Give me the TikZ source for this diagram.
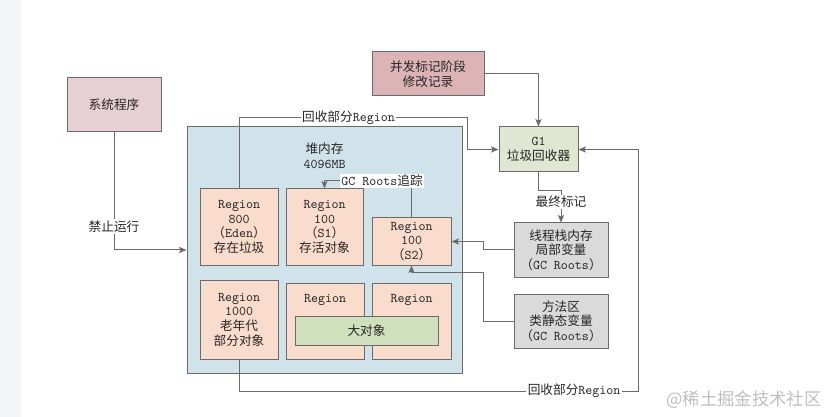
\documentclass[tikz,border=0pt]{standalone}
\usepackage{fontspec}
\setmainfont{Noto Sans CJK SC}
\newcommand{\lat}[1]{{\ttfamily\fontsize{10}{11}\selectfont #1}}
\usepackage{xcolor}
\usetikzlibrary{arrows.meta, positioning, calc}

\definecolor{linegray}{HTML}{6B6B6B}
\definecolor{textdark}{HTML}{262626}
\definecolor{sysfill}{HTML}{E6D0D3}
\definecolor{markfill}{HTML}{DCB4B6}
\definecolor{gcfill}{HTML}{DFE6D1}
\definecolor{heapfill}{HTML}{D0E3EA}
\definecolor{regionfill}{HTML}{FADCCD}
\definecolor{bigfill}{HTML}{D0E0BD}
\definecolor{rootfill}{HTML}{DADADA}
\definecolor{stripfill}{HTML}{F4F5F9}

\begin{document}
\begin{tikzpicture}[x=0.75pt, y=-0.75pt,
  font=\fontsize{9.5}{11}\selectfont,
  box/.style={draw=linegray, line width=0.75pt, align=center, inner sep=0pt, text=textdark},
  region/.style={box, fill=regionfill, minimum width=58.5pt, minimum height=57pt},
  rootbox/.style={box, fill=rootfill, minimum width=70.5pt, minimum height=40.5pt},
  conn/.style={draw=linegray, line width=0.75pt, -{Stealth[length=5.5pt, width=4.5pt, inset=1pt]}},
  lbl/.style={fill=white, inner sep=1pt, text=textdark}]

  % Page and left strip
  \useasboundingbox (0,0) rectangle (825,417);
  \fill[white] (0,0) rectangle (825,417);
  \fill[stripfill] (0,0) rectangle (21,417);

  % Outer boxes
  \node[box, fill=sysfill, minimum width=70.5pt, minimum height=40.5pt] (sys) at (114,105) {系统程序};
  \node[box, fill=markfill, minimum width=84pt, minimum height=33pt] (mark) at (428,74) {并发标记阶段\\修改记录};
  \node[box, fill=gcfill, minimum width=59.25pt, minimum height=33.75pt] (g1) at (538.5,149.5) {\lat{G1}\\垃圾回收器};
  \node[rootbox] (stack) at (561,250) {线程栈内存\\局部变量\\（\lat{GC Roots}）};
  \node[rootbox] (method) at (561,321) {方法区\\类静态变量\\（\lat{GC Roots}）};

  % Heap and its regions
  \node[box, fill=heapfill, minimum width=206.25pt, minimum height=184.5pt] (heap) at (324.5,250) {};
  \node[align=center, text=textdark] (heaplabel) at (324.5,156) {堆内存\\\lat{4096MB}};
  \node[region] (eden) at (239,227) {\lat{Region}\\\lat{800}\\（\lat{Eden}）\\存在垃圾};
  \node[region, minimum width=57.75pt] (s1) at (324.5,227) {\lat{Region}\\\lat{100}\\（\lat{S1}）\\存活对象};
  \node[region, minimum width=59.25pt, minimum height=35.25pt] (s2) at (411.5,241.5) {\lat{Region}\\\lat{100}\\（\lat{S2}）};
  \node[region, minimum height=59.25pt] (old) at (239,319.5) {\lat{Region}\\\lat{1000}\\老年代\\部分对象};
  \node[region] (hum1) at (325,321) {};
  \node[region, minimum width=59.25pt] (hum2) at (411.5,321) {};
  \node[text=textdark] (hum1label) at (325,300) {\lat{Region}};
  \node[text=textdark] (hum2label) at (411.5,300) {\lat{Region}};
  \node[box, fill=bigfill, minimum width=107.25pt, minimum height=21.75pt] (big) at (366.5,330.5) {大对象};

  % Corner points
  \coordinate (c1) at (467,118);
  \coordinate (c2) at (561,191);
  \coordinate (c3) at (483,241.5);
  \coordinate (c4) at (483,272);
  \coordinate (c5) at (324.5,181);
  \coordinate (c6) at (638,391);

  % Connectors
  \draw[conn] (sys.south) |- node[lbl, pos=0.4] {禁止运行} (heap.west);
  \draw[conn] (eden.north) |- node[lbl, pos=0.74] {回收部分\lat{Region}} (c1) |- (g1.west);
  \draw[conn] (mark.east) -| (g1.north);
  \draw[conn] (g1.south) |- (c2) -- node[lbl, pos=0.34] {最终标记} (stack.north);
  \draw[conn] (stack.west) -| (c3) -- (s2.east);
  \draw[conn] (method.west) -| (c4) -| (s2.south);
  \draw[conn] (s2.north) |- (c5) -- (s1.north);
  \node[lbl] (tracelabel) at (382,181) {\lat{GC Roots}追踪};
  \draw[conn] (old.south) |- node[lbl, pos=0.92] {回收部分\lat{Region}} (c6) |- (g1.east);

  % Watermark
  \node[text=black!25, font=\fontsize{13}{15}\selectfont] (watermark) at (744,400) {@稀土掘金技术社区};
\end{tikzpicture}
\end{document}
